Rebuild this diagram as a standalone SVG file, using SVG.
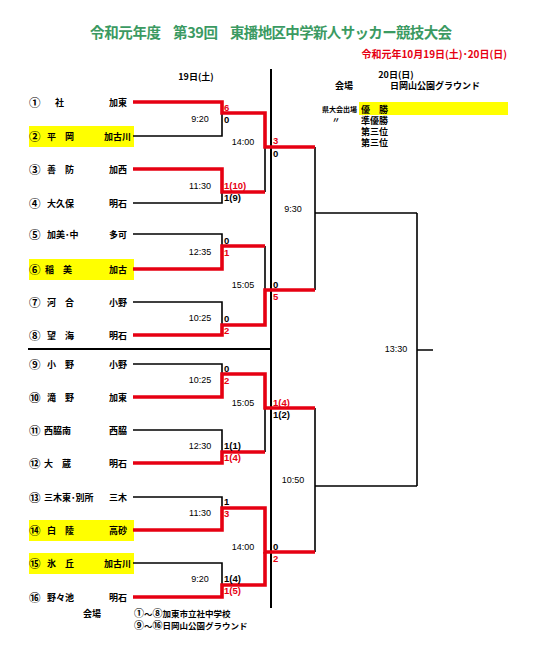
<svg xmlns="http://www.w3.org/2000/svg" width="537" height="646" viewBox="0 0 537 646">
<style>
text{font-family:"Noto Sans CJK JP","Liberation Sans",sans-serif;font-weight:bold;fill:#000}
.t{font-size:9px}
.c{font-size:11.5px}
.r{text-anchor:end}
.m{text-anchor:middle}
.tm{font-family:"Liberation Sans",Arial,sans-serif;font-size:9px;font-weight:normal;text-anchor:middle}
.s{font-family:"Liberation Sans",Arial,sans-serif;font-size:9.5px}
.red{fill:#e60012}
.lg{font-size:9px}
.bk{fill:none;stroke:#000;stroke-width:1.6}
.rd{fill:none;stroke:#e60012;stroke-width:3.6;stroke-linejoin:miter}
.div{fill:none;stroke:#000;stroke-width:2}
.hl{fill:#ffff00}
</style>
<rect width="537" height="646" fill="#fff"/>
<g id="title">
<text x="90" y="38" style="font-size:14.5px;fill:#3b9a62" textLength="71">令和元年度</text>
<text x="173" y="38" style="font-size:14.5px;fill:#3b9a62" textLength="45">第39回</text>
<text x="230" y="38" style="font-size:14.5px;fill:#3b9a62" textLength="222">東播地区中学新人サッカー競技大会</text>
<text x="507" y="58" class="r red" style="font-size:10px">令和元年10月19日(土)･20日(日)</text>
<text x="196" y="80" class="m" style="font-size:9px">19日(土)</text>
<text x="396" y="78" class="m" style="font-size:9px">20日(日)</text>
<text x="344" y="89" class="m" style="font-size:9px">会場</text>
<text x="390" y="89" style="font-size:9px">日岡山公園グラウンド</text>
</g>
<g id="legend">
<rect class="hl" x="359" y="102" width="149" height="13"/>
<text x="357" y="112" class="r" style="font-size:7px">県大会出場</text>
<text x="361" y="112.5" class="lg">優　勝</text>
<text x="336" y="123" class="m" style="font-size:8px">〃</text>
<text x="361" y="123.5" class="lg">準優勝</text>
<text x="361" y="134.5" class="lg">第三位</text>
<text x="361" y="145.5" class="lg">第三位</text>
</g>
<g id="teams">
<g id="team1"><text x="29" y="106.5" class="c">①</text><text x="55" y="106" class="t">社</text><text x="127" y="106" class="t r">加東</text></g>
<g id="team2"><rect class="hl" x="29" y="126" width="105" height="21"/><text x="29" y="140.5" class="c">②</text><text x="47" y="140" class="t">平　岡</text><text x="131" y="140" class="t r">加古川</text></g>
<g id="team3"><text x="29" y="173.5" class="c">③</text><text x="47" y="173" class="t">善　防</text><text x="127" y="173" class="t r">加西</text></g>
<g id="team4"><text x="29" y="207.5" class="c">④</text><text x="47" y="207" class="t">大久保</text><text x="127" y="207" class="t r">明石</text></g>
<g id="team5"><text x="29" y="238.5" class="c">⑤</text><text x="47" y="238" class="t">加美･中</text><text x="127" y="238" class="t r">多可</text></g>
<g id="team6"><rect class="hl" x="29" y="259" width="105" height="21"/><text x="29" y="273.5" class="c">⑥</text><text x="45" y="273" class="t">稲　美</text><text x="127" y="273" class="t r">加古</text></g>
<g id="team7"><text x="29" y="306.5" class="c">⑦</text><text x="47" y="306" class="t">河　合</text><text x="127" y="306" class="t r">小野</text></g>
<g id="team8"><text x="29" y="339.5" class="c">⑧</text><text x="47" y="339" class="t">望　海</text><text x="127" y="339" class="t r">明石</text></g>
<g id="team9"><text x="29" y="368.5" class="c">⑨</text><text x="47" y="368" class="t">小　野</text><text x="127" y="368" class="t r">小野</text></g>
<g id="team10"><text x="29" y="401.5" class="c">⑩</text><text x="47" y="401" class="t">滝　野</text><text x="127" y="401" class="t r">加東</text></g>
<g id="team11"><text x="29" y="434.5" class="c">⑪</text><text x="44" y="434" class="t">西脇南</text><text x="127" y="434" class="t r">西脇</text></g>
<g id="team12"><text x="29" y="467.5" class="c">⑫</text><text x="44" y="467" class="t">大　蔵</text><text x="127" y="467" class="t r">明石</text></g>
<g id="team13"><text x="29" y="501.5" class="c">⑬</text><text x="44" y="501" class="t">三木東･別所</text><text x="127" y="501" class="t r">三木</text></g>
<g id="team14"><rect class="hl" x="29" y="520" width="105" height="21"/><text x="29" y="534.5" class="c">⑭</text><text x="47" y="534" class="t">白　陵</text><text x="127" y="534" class="t r">高砂</text></g>
<g id="team15"><rect class="hl" x="29" y="553" width="105" height="21"/><text x="29" y="567.5" class="c">⑮</text><text x="47" y="567" class="t">氷　丘</text><text x="131" y="567" class="t r">加古川</text></g>
<g id="team16"><text x="29" y="601.5" class="c">⑯</text><text x="47" y="601" class="t">野々池</text><text x="127" y="601" class="t r">明石</text></g>
</g>
<g id="connectors">
<path class="div" d="M271,69 V608 M28,349 H271"/>
<path class="bk" d="M133,136 H222 V113 M133,203 H222 V192 M265,147 V192
M133,234 H222 V246 M265,246 V290 M133,302 H222 V325
M315,147 V290 M315,213 H417
M133,364 H222 V374 M133,430 H222 V452 M265,408 V452
M133,497 H222 V508 M133,563 H222 V585
M315,408 V552 M315,486 H417
M417,213 V486 M417,350 H433"/>
<path class="rd" d="M133,102 H222 V113 H265 V147 H315"/>
<path class="rd" d="M133,169 H222 V192 H265"/>
<path class="rd" d="M133,269 H222 V246 H265"/>
<path class="rd" d="M133,335 H222 V325 H265 V290 H315"/>
<path class="rd" d="M133,397 H222 V374 H265 V408 H315"/>
<path class="rd" d="M133,463 H222 V452 H265"/>
<path class="rd" d="M133,530 H222 V508 H265 V552 H315"/>
<path class="rd" d="M133,597 H222 V585 H265 V552"/>
</g>
<g id="scores">
<text x="224" y="111" class="s red">6</text><text x="224" y="122.5" class="s">0</text>
<text x="224" y="189" class="s red">1(10)</text><text x="224" y="201" class="s">1(9)</text>
<text x="224" y="244" class="s">0</text><text x="224" y="255.5" class="s red">1</text>
<text x="224" y="322" class="s">0</text><text x="224" y="333.5" class="s red">2</text>
<text x="224" y="372" class="s">0</text><text x="224" y="384" class="s red">2</text>
<text x="224" y="449" class="s">1(1)</text><text x="224" y="461" class="s red">1(4)</text>
<text x="224" y="505" class="s">1</text><text x="224" y="517" class="s red">3</text>
<text x="224" y="582" class="s">1(4)</text><text x="224" y="594" class="s red">1(5)</text>
<text x="273" y="144" class="s red">3</text><text x="273" y="157" class="s">0</text>
<text x="273" y="288" class="s">0</text><text x="273" y="300" class="s red">5</text>
<text x="273" y="406" class="s red">1(4)</text><text x="273" y="417.5" class="s">1(2)</text>
<text x="273" y="550" class="s">0</text><text x="273" y="561.5" class="s red">2</text>
</g>
<g id="times">
<text x="200" y="122" class="tm">9:20</text>
<text x="200" y="189" class="tm">11:30</text>
<text x="200" y="255" class="tm">12:35</text>
<text x="200" y="321" class="tm">10:25</text>
<text x="200" y="383" class="tm">10:25</text>
<text x="200" y="449" class="tm">12:30</text>
<text x="200" y="516" class="tm">11:30</text>
<text x="200" y="582" class="tm">9:20</text>
<text x="243" y="145" class="tm">14:00</text>
<text x="243" y="288" class="tm">15:05</text>
<text x="243" y="406" class="tm">15:05</text>
<text x="243" y="550" class="tm">14:00</text>
<text x="293" y="212" class="tm">9:30</text>
<text x="293" y="483" class="tm">10:50</text>
<text x="396" y="352" class="tm">13:30</text>
</g>
<g id="venue">
<text x="92" y="617" class="m" style="font-size:9px">会場</text>
<text x="134" y="617" style="font-size:8.5px"><tspan style="font-size:10px">①</tspan>～<tspan style="font-size:10px">⑧</tspan>加東市立社中学校</text>
<text x="134" y="628.5" style="font-size:8.5px"><tspan style="font-size:10px">⑨</tspan>～<tspan style="font-size:10px">⑯</tspan>日岡山公園グラウンド</text>
</g>
</svg>
